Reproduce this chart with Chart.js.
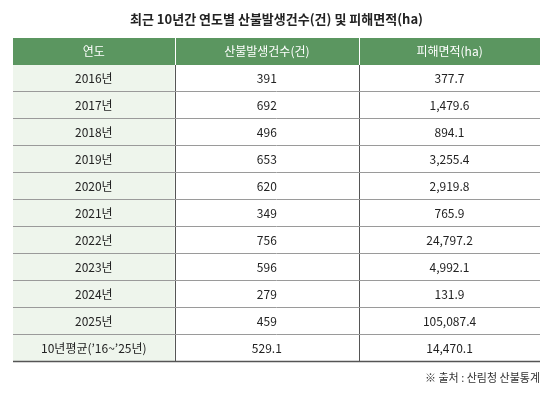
<!DOCTYPE html>
<html><head><meta charset="utf-8">
<script src="https://cdn.jsdelivr.net/npm/chart.js@4"></script>
<style>html,body{margin:0;padding:0;background:#fff}#c{display:block}</style>
</head><body>
<div style="width:555px;height:400px"><canvas id="c"></canvas></div>
<script>
const title = '최근 10년간 연도별 산불발생건수(건) 및 피해면적(ha)';
const headers = ['연도', '산불발생건수(건)', '피해면적(ha)'];
const years = ['2016년','2017년','2018년','2019년','2020년','2021년','2022년','2023년','2024년','2025년','10년평균(\u201916~\u201925년)'];
const fires = ['391','692','496','653','620','349','756','596','279','459','529.1'];
const area = ['377.7','1,479.6','894.1','3,255.4','2,919.8','765.9','24,797.2','4,992.1','131.9','105,087.4','14,470.1'];
const source = '※ 출처 : 산림청 산불통계';
const colBounds = [0, 0.92, 1.97, 3];

const FONT = '"Noto Sans CJK KR", "Noto Sans", sans-serif';
const rows = ['header', ...years];

const tablePlugin = {
  id: 'table',
  afterDraw(chart) {
    const ctx = chart.ctx, x = chart.scales.x, y = chart.scales.y, a = chart.chartArea;
    const rh = (a.bottom - a.top) / rows.length;
    const xs = colBounds.map(v => x.getPixelForValue(v));
    ctx.save();
    // title
    ctx.fillStyle = '#222'; ctx.font = 'bold 13px ' + FONT;
    ctx.textAlign = 'center'; ctx.textBaseline = 'middle';
    ctx.fillText(title, (a.left + a.right) / 2, 19);
    rows.forEach((r, i) => {
      const cy = y.getPixelForValue(i), top = cy - rh / 2, bot = cy + rh / 2;
      if (i === 0) {
        ctx.fillStyle = '#5b9660'; ctx.fillRect(a.left, top, a.right - a.left, rh);
        ctx.strokeStyle = '#fff'; ctx.lineWidth = 1;
        [1, 2].forEach(k => { ctx.beginPath(); ctx.moveTo(Math.round(xs[k]) + 0.5, top); ctx.lineTo(Math.round(xs[k]) + 0.5, bot); ctx.stroke(); });
        ctx.fillStyle = '#fff'; ctx.font = '12px ' + FONT;
        headers.forEach((h, k) => ctx.fillText(h, (xs[k] + xs[k + 1]) / 2, cy));
      } else {
        ctx.fillStyle = '#eef5ec'; ctx.fillRect(a.left, top, xs[1] - a.left, rh);
        ctx.strokeStyle = '#555'; ctx.lineWidth = 1;
        [1, 2].forEach(k => { ctx.beginPath(); ctx.moveTo(Math.round(xs[k]) + 0.5, top); ctx.lineTo(Math.round(xs[k]) + 0.5, bot); ctx.stroke(); });
        ctx.strokeStyle = i === rows.length - 1 ? '#555' : '#9a9a9a';
        ctx.lineWidth = i === rows.length - 1 ? 1.5 : 1;
        ctx.beginPath(); ctx.moveTo(a.left, Math.round(bot) - 0.5); ctx.lineTo(a.right, Math.round(bot) - 0.5); ctx.stroke();
        ctx.fillStyle = '#222'; ctx.font = '12px ' + FONT;
        ctx.fillText(years[i - 1], (xs[0] + xs[1]) / 2, cy);
        ctx.fillText(fires[i - 1], (xs[1] + xs[2]) / 2, cy);
        ctx.fillText(area[i - 1], (xs[2] + xs[3]) / 2, cy);
      }
    });
    ctx.textAlign = 'right'; ctx.font = '11px ' + FONT; ctx.fillStyle = '#333';
    ctx.fillText(source, a.right, a.bottom + 16);
    ctx.restore();
  }
};

new Chart(document.getElementById('c'), {
  type: 'bar',
  data: { labels: rows, datasets: [{ data: [], indexAxis: 'y' }] },
  options: {
    responsive: true, maintainAspectRatio: false, animation: false,
    indexAxis: 'y',
    layout: { padding: { left: 13, right: 15, top: 38, bottom: 38 } },
    plugins: { legend: { display: false }, tooltip: { enabled: false } },
    scales: {
      x: { type: 'linear', min: 0, max: 3, display: false },
      y: { type: 'category', display: false, offset: true }
    }
  },
  plugins: [tablePlugin]
});
</script>
</body></html>
